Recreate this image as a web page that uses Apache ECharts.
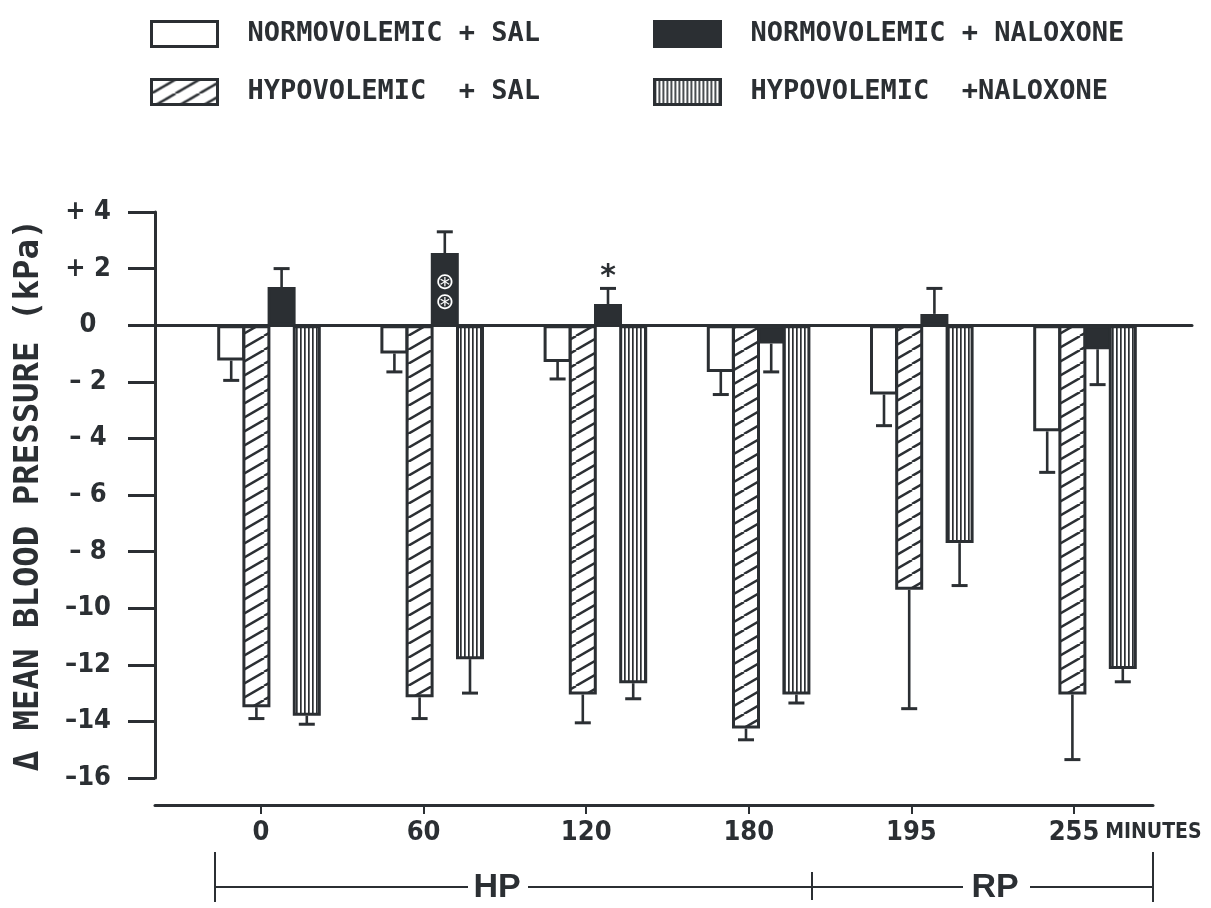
<!DOCTYPE html>
<html>
<head>
<meta charset="utf-8">
<title>Mean blood pressure change</title>
<script src="https://cdn.jsdelivr.net/npm/echarts@6/dist/echarts.min.js"></script>
<style>
  html, body { margin: 0; padding: 0; background: #ffffff; }
  #chart { width: 1211px; height: 908px; }
</style>
</head>
<body>
<div id="chart"></div>
<script>
// ---- data (kPa, change from baseline; mean and SEM) ----
const timeLabels = ['0', '60', '120', '180', '195', '255'];
const seriesNames = [
  'NORMOVOLEMIC + SAL',
  'HYPOVOLEMIC  + SAL',
  'NORMOVOLEMIC + NALOXONE',
  'HYPOVOLEMIC  +NALOXONE'
];
const normoSal      = [-1.25, -1.0, -1.3, -1.65, -2.45, -3.75];
const normoSalErr   = [0.7, 0.65, 0.6, 0.8, 1.1, 1.45];
const hypoSal       = [-13.5, -13.15, -13.05, -14.25, -9.35, -13.05];
const hypoSalErr    = [0.4, 0.75, 1.0, 0.4, 4.2, 2.3];
const normoNal      = [1.35, 2.55, 0.75, -0.65, 0.4, -0.85];
const normoNalErr   = [0.65, 0.75, 0.55, 1.0, 0.9, 1.25];
const hypoNal       = [-13.8, -11.8, -12.65, -13.05, -7.7, -12.15];
const hypoNalErr    = [0.3, 1.2, 0.55, 0.3, 1.5, 0.45];
const normoNalMarks = ['', '⊛\n⊛', '*', '', '', ''];
const yTickValues   = [4, 2, 0, -2, -4, -6, -8, -10, -12, -14, -16];
const yTickLabels   = ['+ 4', '+ 2', '0', '– 2', '– 4', '– 6', '– 8', '–10', '–12', '–14', '–16'];

// ---- styling ----
const INK = '#2b2f33';
const NARROW = '"Liberation Sans Narrow", "DejaVu Sans Condensed", "Liberation Sans", sans-serif';
const MONO = '"DejaVu Sans Mono", "Liberation Mono", monospace';
const BAR_W = 28;
const BAR_GAP = -0.1;

function hatchPattern() {
  const c = document.createElement('canvas');
  c.width = 24; c.height = 14;
  const g = c.getContext('2d');
  g.fillStyle = '#ffffff';
  g.fillRect(0, 0, 24, 14);
  g.strokeStyle = INK;
  g.lineWidth = 2.4;
  for (const dx of [-24, 0, 24]) {
    g.beginPath();
    g.moveTo(dx, 14);
    g.lineTo(dx + 24, 0);
    g.stroke();
  }
  return { image: c, repeat: 'repeat' };
}

function stripePattern() {
  const c = document.createElement('canvas');
  c.width = 4; c.height = 4;
  const g = c.getContext('2d');
  g.fillStyle = '#ffffff';
  g.fillRect(0, 0, 4, 4);
  g.fillStyle = INK;
  g.fillRect(0, 0, 1.7, 4);
  return { image: c, repeat: 'repeat' };
}

const fills = ['#ffffff', hatchPattern(), INK, stripePattern()];
const means = [normoSal, hypoSal, normoNal, hypoNal];
const errs = [normoSalErr, hypoSalErr, normoNalErr, hypoNalErr];

// error bar records: [category index, mean, sem, series index]
const errData = [];
means.forEach((arr, s) => arr.forEach((m, i) => errData.push([i, m, errs[s][i], s])));

const chart = echarts.init(document.getElementById('chart'), null, { renderer: 'canvas' });

const barSeries = means.map((arr, s) => ({
  name: seriesNames[s],
  type: 'bar',
  xAxisIndex: 1,
  yAxisIndex: 1,
  barWidth: BAR_W,
  barGap: (BAR_GAP * 100) + '%',
  data: arr.map((v, i) => {
    if (s === 2 && normoNalMarks[i]) {
      const inside = normoNalMarks[i].indexOf('⊛') >= 0;
      return {
        value: v,
        label: inside ? {
          show: true, position: 'inside', formatter: normoNalMarks[i],
          color: '#ffffff', fontSize: 23, lineHeight: 20,
          fontFamily: '"DejaVu Sans", sans-serif', offset: [0, 4]
        } : {
          show: true, position: 'top', formatter: normoNalMarks[i],
          color: INK, fontSize: 30, fontWeight: 'bold', distance: 12,
          fontFamily: '"DejaVu Sans", sans-serif'
        }
      };
    }
    return v;
  }),
  itemStyle: { color: fills[s], borderColor: INK, borderWidth: 3 },
  emphasis: { disabled: true },
  z: 3
}));

const errorSeries = {
  type: 'custom',
  xAxisIndex: 1,
  yAxisIndex: 1,
  data: errData,
  z: 4,
  silent: true,
  renderItem: function (params, api) {
    const i = api.value(0), m = api.value(1), e = api.value(2), s = api.value(3);
    const dir = m >= 0 ? 1 : -1;
    const base = api.coord([i, m]);
    const tip = api.coord([i, m + dir * e]);
    const step = BAR_W * (1 + BAR_GAP);
    const x = base[0] + (s - 1.5) * step;
    return {
      type: 'group',
      children: [
        { type: 'line', shape: { x1: x, y1: base[1], x2: x, y2: tip[1] },
          style: { stroke: INK, lineWidth: 2.6 } },
        { type: 'line', shape: { x1: x - 8, y1: tip[1], x2: x + 8, y2: tip[1] },
          style: { stroke: INK, lineWidth: 3 } }
      ]
    };
  }
};

function legendAt(name, left, top) {
  return {
    data: [name], left: left, top: top, padding: 0,
    icon: 'rect', itemWidth: 66, itemHeight: 25,
    selectedMode: false,
    itemStyle: { borderColor: INK, borderWidth: 3 },
    textStyle: {
      color: INK, fontFamily: MONO, fontWeight: 'bold', fontSize: 27,
      padding: [0, 0, 0, 25]
    }
  };
}

const GRID_TOP = 212, GRID_BOTTOM = 130;

const option = {
  backgroundColor: '#ffffff',
  animation: false,
  legend: [
    legendAt(seriesNames[0], 150, 20),
    legendAt(seriesNames[1], 150, 78),
    legendAt(seriesNames[2], 653, 20),
    legendAt(seriesNames[3], 653, 78)
  ],
  grid: [
    // value axis and zero reference line
    { left: 155, right: 19, top: GRID_TOP, bottom: GRID_BOTTOM, outerBoundsMode: 'none' },
    // bars
    { left: 187.4, right: 44.4, top: GRID_TOP, bottom: GRID_BOTTOM, outerBoundsMode: 'none' },
    // time axis
    { left: 155, right: 58, top: GRID_TOP, bottom: 103, outerBoundsMode: 'none' }
  ],
  xAxis: [
    {
      type: 'value', gridIndex: 0, min: 0, max: 1,
      axisLine: { onZero: true, lineStyle: { color: INK, width: 3 } },
      axisTick: { show: false }, axisLabel: { show: false }, splitLine: { show: false }
    },
    {
      type: 'category', gridIndex: 1, data: timeLabels, show: false
    },
    {
      type: 'value', gridIndex: 2, min: -0.652, max: 5.486,
      axisLine: { onZero: false, lineStyle: { color: INK, width: 3 } },
      axisTick: { customValues: [0, 1, 2, 3, 4, 5], length: 9, lineStyle: { color: INK, width: 2 } },
      axisLabel: {
        customValues: [0, 1, 2, 3, 4, 5],
        formatter: v => timeLabels[Math.round(v)],
        color: INK, fontFamily: NARROW, fontWeight: 'bold', fontSize: 27, margin: 14
      },
      splitLine: { show: false },
      name: 'MINUTES', nameLocation: 'end', nameGap: -56,
      nameTextStyle: {
        color: INK, fontFamily: NARROW, fontWeight: 'bold', fontSize: 21,
        align: 'left', verticalAlign: 'top', padding: [17, 0, 0, 0]
      }
    }
  ],
  yAxis: [
    {
      type: 'value', gridIndex: 0, min: -16, max: 4, interval: 2,
      axisLine: { show: true, onZero: false, lineStyle: { color: INK, width: 3 } },
      axisTick: { show: true, length: 27, lineStyle: { color: INK, width: 3 } },
      axisLabel: {
        formatter: v => yTickLabels[yTickValues.indexOf(v)] || '',
        align: 'center', margin: 67,
        color: INK, fontFamily: NARROW, fontWeight: 'bold', fontSize: 27
      },
      splitLine: { show: false },
      name: 'Δ MEAN BLOOD PRESSURE (kPa)',
      nameLocation: 'middle', nameRotate: 90, nameGap: 109,
      nameTextStyle: { color: INK, fontFamily: MONO, fontWeight: 'bold', fontSize: 34 }
    },
    { type: 'value', gridIndex: 1, min: -16, max: 4, interval: 2, show: false, splitLine: { show: false } },
    { type: 'value', gridIndex: 2, min: -16, max: 4, interval: 2, show: false, splitLine: { show: false } }
  ],
  series: barSeries.concat([errorSeries]),
  graphic: [
    { type: 'line', shape: { x1: 215, y1: 852, x2: 215, y2: 902 }, style: { stroke: INK, lineWidth: 2 } },
    { type: 'line', shape: { x1: 812, y1: 872, x2: 812, y2: 900 }, style: { stroke: INK, lineWidth: 2 } },
    { type: 'line', shape: { x1: 1153, y1: 852, x2: 1153, y2: 902 }, style: { stroke: INK, lineWidth: 2 } },
    { type: 'line', shape: { x1: 215, y1: 887, x2: 468, y2: 887 }, style: { stroke: INK, lineWidth: 2 } },
    { type: 'line', shape: { x1: 528, y1: 887, x2: 963, y2: 887 }, style: { stroke: INK, lineWidth: 2 } },
    { type: 'line', shape: { x1: 1030, y1: 887, x2: 1153, y2: 887 }, style: { stroke: INK, lineWidth: 2 } },
    { type: 'text', style: { text: 'HP', x: 497, y: 888, align: 'center', verticalAlign: 'middle',
        fill: INK, font: 'bold 34px "Liberation Sans", sans-serif' } },
    { type: 'text', style: { text: 'RP', x: 995, y: 888, align: 'center', verticalAlign: 'middle',
        fill: INK, font: 'bold 34px "Liberation Sans", sans-serif' } }
  ]
};

chart.setOption(option);
</script>
</body>
</html>
